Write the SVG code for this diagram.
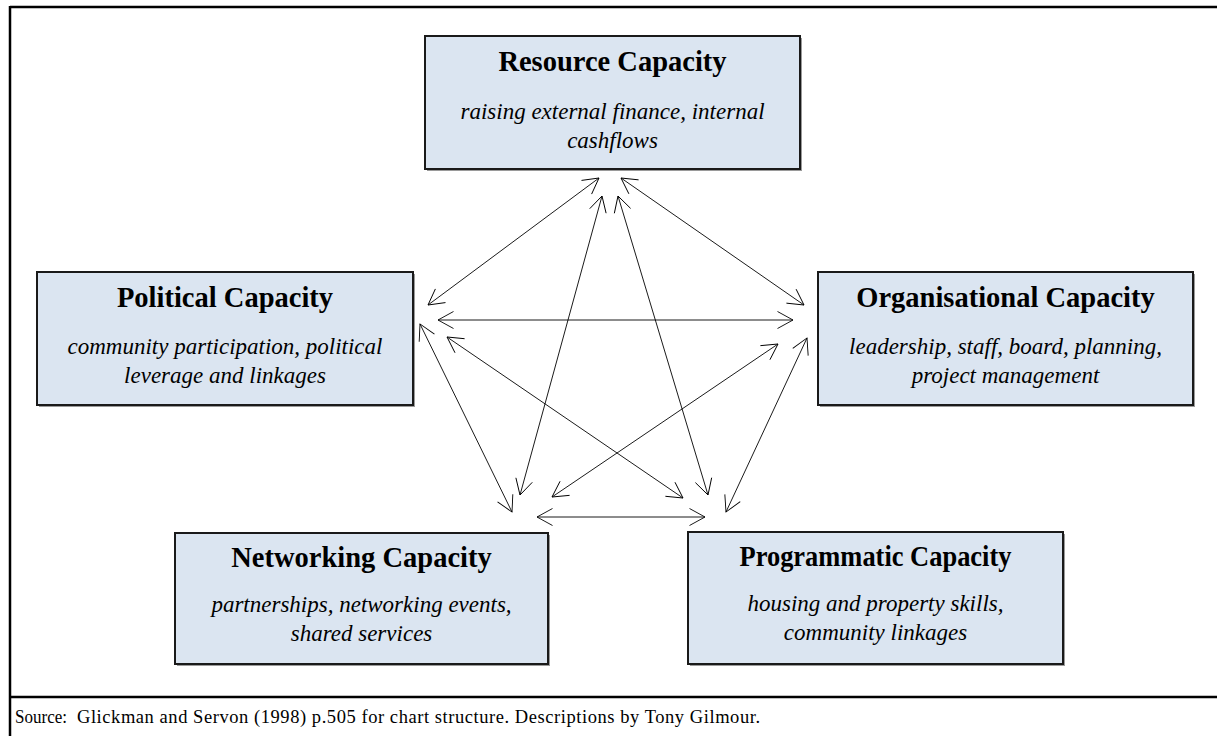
<svg xmlns="http://www.w3.org/2000/svg" width="1217" height="736" viewBox="0 0 1217 736">
<style>
.box{fill:#dbe5f1;stroke:#1a1a1a;stroke-width:2}
.shadow{fill:#9a9a9a}
.title{font-family:"Liberation Serif","Times New Roman",serif;font-weight:bold;font-size:28.5px;fill:#000;text-anchor:middle}
.desc{font-family:"Liberation Serif","Times New Roman",serif;font-style:italic;font-size:23px;fill:#000;text-anchor:middle}
.src{font-family:"Liberation Serif","Times New Roman",serif;font-size:18.5px;fill:#000}
.frame{stroke:#000;stroke-width:2.5;fill:none}
.conn line{stroke:#000;stroke-width:0.9;marker-start:url(#arr);marker-end:url(#arr)}
</style>
<defs>
<marker id="arr" markerUnits="userSpaceOnUse" markerWidth="20" markerHeight="20" viewBox="0 0 20 20" refX="18" refY="10" orient="auto-start-reverse">
<path d="M2.5,1.5 L18,10 L2.5,18.5" fill="none" stroke="#000" stroke-width="0.9"/>
</marker>
</defs>
<rect width="1217" height="736" fill="#fff"/>
<g id="frame">
<line class="frame" x1="10" y1="7" x2="1217" y2="7"/>
<line class="frame" x1="10" y1="6" x2="10" y2="736"/>
<line class="frame" x1="10" y1="697" x2="1217" y2="697"/>
</g>
<g id="resource">
<rect class="shadow" x="427" y="38" width="375" height="133"/>
<rect class="box" x="425" y="36" width="375" height="133"/>
<text class="title" x="612.5" y="71">Resource Capacity</text>
<text class="desc" x="612.5" y="119">raising external finance, internal</text>
<text class="desc" x="612.5" y="148">cashflows</text>
</g>
<g id="political">
<rect class="shadow" x="39" y="274" width="376" height="133"/>
<rect class="box" x="37" y="272" width="376" height="133"/>
<text class="title" x="225" y="307">Political Capacity</text>
<text class="desc" x="225" y="354">community participation, political</text>
<text class="desc" x="225" y="383">leverage and linkages</text>
</g>
<g id="organisational">
<rect class="shadow" x="820" y="274" width="375" height="133"/>
<rect class="box" x="818" y="272" width="375" height="133"/>
<text class="title" x="1005.5" y="307">Organisational Capacity</text>
<text class="desc" x="1005.5" y="354">leadership, staff, board, planning,</text>
<text class="desc" x="1005.5" y="383">project management</text>
</g>
<g id="networking">
<rect class="shadow" x="177" y="535" width="373" height="131"/>
<rect class="box" x="175" y="533" width="373" height="131"/>
<text class="title" x="361.5" y="567">Networking Capacity</text>
<text class="desc" x="361.5" y="612">partnerships, networking events,</text>
<text class="desc" x="361.5" y="641">shared services</text>
</g>
<g id="programmatic">
<rect class="shadow" x="690" y="534" width="375" height="132"/>
<rect class="box" x="688" y="532" width="375" height="132"/>
<text class="title" x="875.5" y="566" textLength="272" lengthAdjust="spacingAndGlyphs">Programmatic Capacity</text>
<text class="desc" x="875.5" y="611">housing and property skills,</text>
<text class="desc" x="875.5" y="640">community linkages</text>
</g>
<g id="connectors" class="conn">
<line x1="599" y1="178" x2="428" y2="305"/>
<line x1="621" y1="178" x2="804" y2="305"/>
<line x1="438" y1="320" x2="793" y2="320"/>
<line x1="602" y1="196" x2="520" y2="495"/>
<line x1="618" y1="196" x2="708" y2="495"/>
<line x1="420" y1="324" x2="512" y2="512"/>
<line x1="447" y1="337" x2="683" y2="498"/>
<line x1="778" y1="344" x2="552" y2="497"/>
<line x1="807" y1="338" x2="726" y2="512"/>
<line x1="537" y1="517" x2="705" y2="517"/>
</g>
<g id="source">
<text class="src" x="15" y="723" textLength="52" lengthAdjust="spacingAndGlyphs">Source:</text>
<text class="src" x="77" y="723" textLength="683" lengthAdjust="spacing">Glickman and Servon (1998) p.505 for chart structure. Descriptions by Tony Gilmour.</text>
</g>
</svg>
